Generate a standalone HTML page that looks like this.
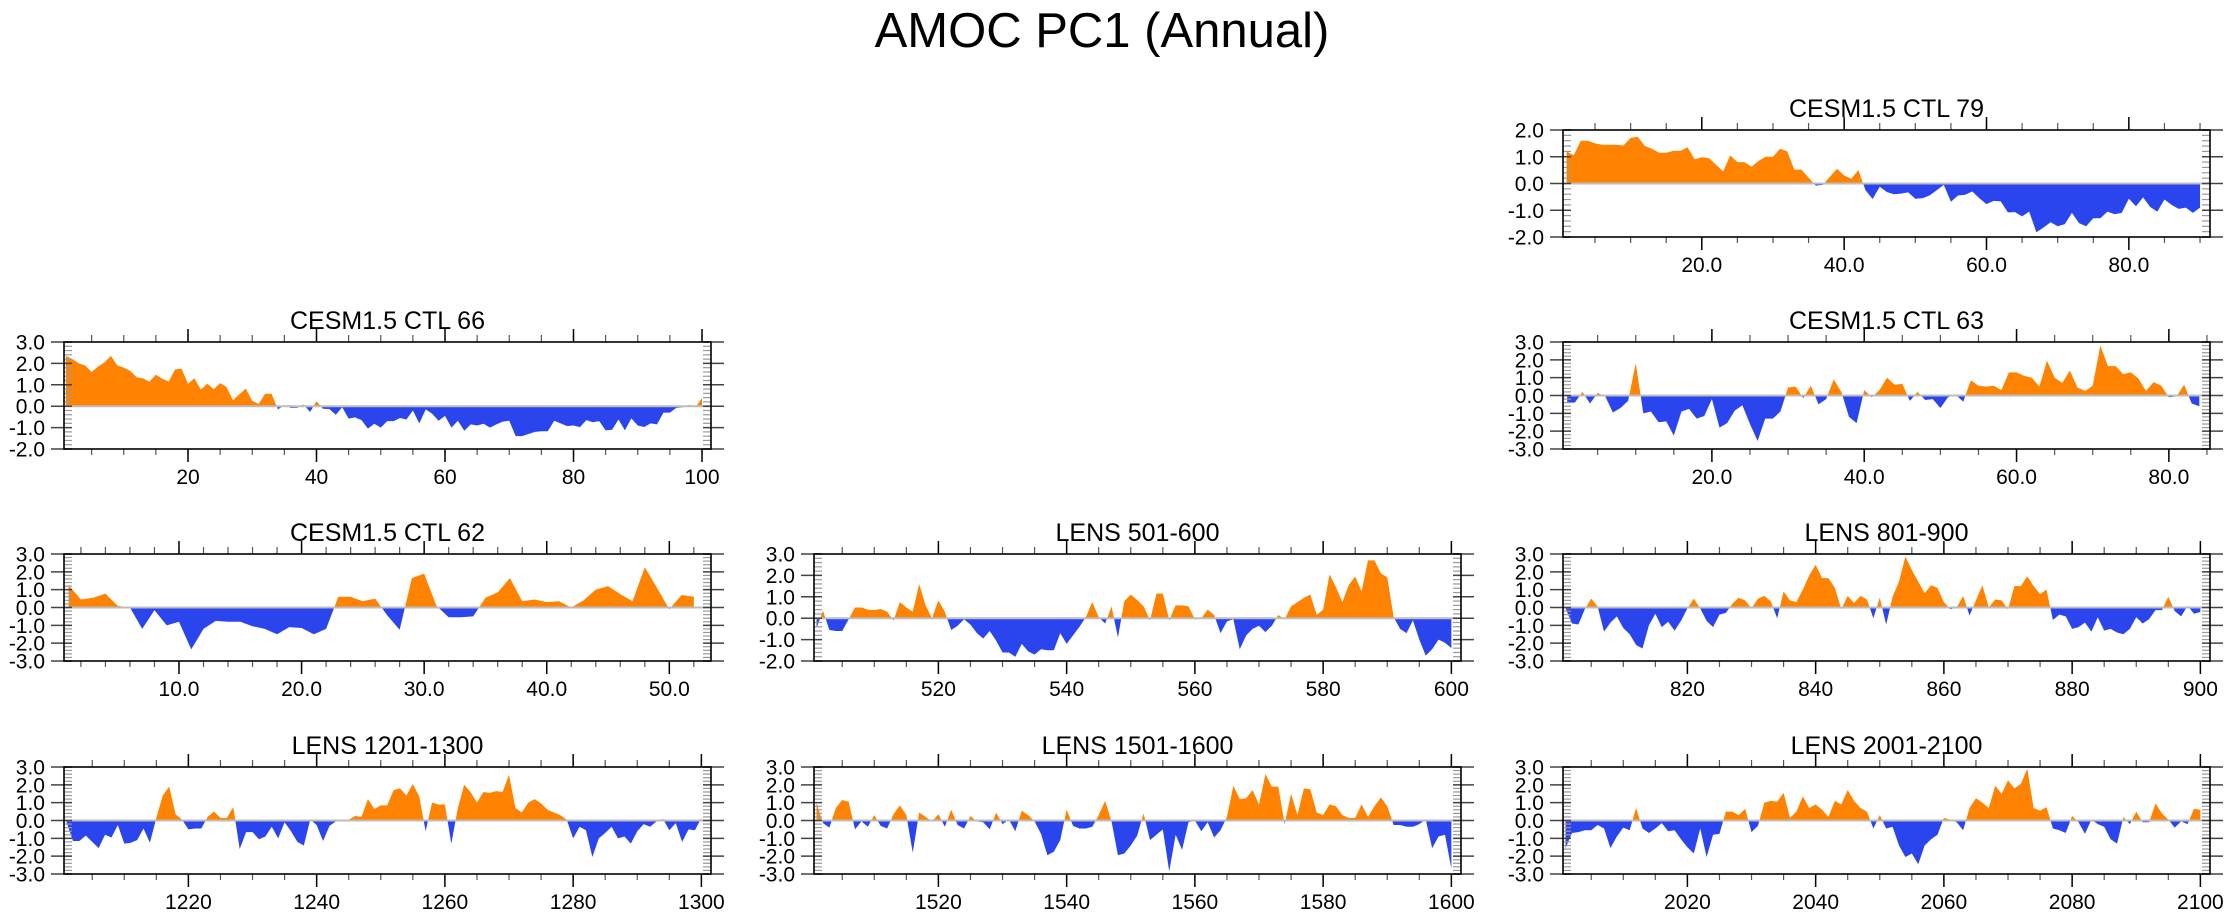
<!DOCTYPE html>
<html><head><meta charset="utf-8"><style>
html,body{margin:0;padding:0;background:#fff;}
svg{display:block;font-family:"Liberation Sans",Arial,sans-serif;}
</style></head><body>
<svg id="chart" width="2230" height="921" viewBox="0 0 2230 921" xmlns="http://www.w3.org/2000/svg">
<rect width="2230" height="921" fill="#fff"/>
<text x="1102" y="47" font-size="49" text-anchor="middle" fill="#000">AMOC PC1 (Annual)</text>
</svg>
<script>
// ---- data ----
const ctl79Values = [1.2,1.05,1.6,1.6,1.5,1.45,1.45,1.45,1.42,1.7,1.75,1.4,1.3,1.15,1.15,1.22,1.22,1.35,0.9,0.98,0.95,0.7,0.45,1.05,0.8,0.8,0.62,0.85,1.0,1.0,1.3,1.2,0.52,0.52,0.22,-0.08,-0.05,0.25,0.55,0.3,0.18,0.5,-0.25,-0.58,-0.12,-0.32,-0.4,-0.38,-0.33,-0.57,-0.55,-0.45,-0.25,-0.05,-0.68,-0.45,-0.42,-0.3,-0.55,-0.77,-0.65,-0.67,-1.08,-1.07,-1.23,-1.05,-1.82,-1.65,-1.45,-1.6,-1.52,-1.1,-1.48,-1.6,-1.3,-1.3,-1.05,-1.15,-1.1,-0.57,-0.85,-0.52,-0.88,-1.05,-0.6,-0.8,-0.95,-0.9,-1.1,-0.9];
const ctl66Values = [2.35,2.2,2.0,1.9,1.6,1.85,2.05,2.35,1.9,1.8,1.65,1.35,1.3,1.15,1.47,1.28,1.15,1.72,1.75,1.05,1.3,0.78,1.05,0.8,1.08,0.9,0.28,0.56,0.82,0.25,0.1,0.58,0.58,-0.15,0.05,-0.08,-0.07,0.08,-0.27,0.23,-0.12,-0.13,-0.4,-0.05,-0.58,-0.52,-0.65,-1.05,-0.82,-1.0,-0.7,-0.7,-0.55,-0.62,-0.2,-0.8,-0.15,-0.35,-0.68,-0.45,-1.0,-0.68,-1.15,-0.85,-0.9,-0.82,-1.0,-0.85,-0.72,-0.68,-1.4,-1.4,-1.3,-1.2,-1.17,-1.17,-0.68,-0.8,-0.93,-0.9,-0.98,-0.65,-0.75,-0.7,-1.13,-1.1,-0.62,-1.13,-0.57,-0.9,-0.97,-0.8,-0.85,-0.3,-0.3,-0.08,-0.05,0.07,-0.04,0.38];
const ctl63Values = [-0.4,-0.4,0.2,-0.45,0.15,-0.05,-0.95,-0.7,-0.3,1.8,-1.0,-0.9,-1.5,-1.45,-2.25,-0.9,-0.75,-1.3,-1.15,-0.2,-1.8,-1.55,-0.85,-0.55,-1.6,-2.55,-1.3,-1.3,-0.9,0.45,0.5,-0.15,0.55,-0.5,-0.2,0.9,0.2,-1.2,-1.55,0.3,-0.1,0.3,1.0,0.6,0.65,-0.3,0.2,-0.25,-0.2,-0.7,-0.1,0.05,-0.35,0.85,0.55,0.5,0.55,0.3,1.3,1.3,1.1,1.0,0.5,1.95,1.0,0.7,1.4,0.45,0.25,0.55,2.8,1.65,1.65,1.2,1.3,0.95,0.25,0.75,0.55,-0.1,-0.05,0.6,-0.45,-0.6];
const ctl62Values = [1.25,0.45,0.55,0.78,0.1,0.0,-1.2,-0.15,-1.0,-0.8,-2.35,-1.2,-0.75,-0.8,-0.8,-1.05,-1.2,-1.5,-1.1,-1.15,-1.5,-1.2,0.6,0.6,0.35,0.5,-0.45,-1.25,1.65,1.9,0.1,-0.55,-0.55,-0.5,0.55,0.85,1.65,0.35,0.45,0.3,0.35,0.0,0.4,1.0,1.2,0.75,0.35,2.25,1.1,-0.1,0.7,0.6];
const lens501Values = [-0.45,0.35,-0.55,-0.6,-0.6,-0.05,0.5,0.5,0.4,0.38,0.43,0.3,-0.1,0.75,0.5,0.3,1.6,0.6,0.0,0.83,0.3,-0.55,-0.35,-0.05,-0.3,-0.7,-0.95,-0.6,-1.05,-1.6,-1.6,-1.8,-1.2,-1.55,-1.7,-1.45,-1.5,-1.5,-0.7,-1.2,-0.8,-0.4,0.05,0.75,0.05,-0.25,0.55,-0.9,0.8,1.1,0.85,0.55,-0.1,1.15,1.15,-0.1,0.6,0.6,0.55,-0.05,0.0,0.4,0.15,-0.7,-0.15,-0.05,-1.45,-0.8,-0.5,-0.35,-0.65,-0.35,0.15,-0.05,0.55,0.75,0.95,1.1,0.15,0.4,2.05,1.45,0.75,1.55,1.95,1.25,2.7,2.7,2.1,1.9,0.05,-0.5,-0.7,-0.1,-1.0,-1.75,-1.45,-1.0,-1.15,-1.4];
const lens801Values = [-0.05,-0.9,-0.95,-0.1,0.5,0.05,-1.35,-0.85,-0.5,-1.15,-1.5,-2.1,-2.3,-1.0,-0.35,-1.1,-0.8,-1.3,-0.75,-0.05,0.5,-0.05,-0.75,-1.1,-0.4,-0.3,0.2,0.55,0.4,-0.05,0.5,0.65,0.35,-0.6,0.9,0.4,0.3,1.0,1.8,2.4,1.65,1.65,1.1,-0.1,0.65,0.25,0.65,0.45,-0.6,0.55,-0.95,0.6,1.45,2.85,2.1,1.45,0.8,1.25,1.1,0.3,-0.1,0.0,0.65,-0.45,0.4,1.25,0.0,0.45,0.4,-0.1,1.2,1.2,1.75,1.2,0.75,1.0,-0.7,-0.4,-0.5,-1.2,-1.1,-0.85,-1.35,-0.55,-1.3,-1.2,-1.4,-1.5,-1.2,-0.55,-0.9,-0.65,-0.15,-0.15,0.6,-0.2,-0.5,0.1,-0.35,-0.25];
const lens1201Values = [-0.1,-1.15,-1.15,-0.85,-1.2,-1.55,-0.8,-0.95,-0.25,-1.3,-1.25,-1.1,-0.45,-1.25,0.15,1.4,1.9,0.35,0.05,-0.5,-0.45,-0.45,0.2,0.5,0.15,0.15,0.75,-1.6,-0.65,-0.65,-1.05,-0.9,-0.35,-1.0,-0.1,-0.6,-1.2,-1.4,0.05,-0.25,-1.15,-0.3,-0.05,0.0,0.05,0.25,0.2,1.2,0.65,0.85,0.85,1.7,1.8,1.4,2.05,1.35,-0.6,1.0,0.9,0.9,-1.3,0.65,2.0,1.6,1.0,1.6,1.55,1.65,1.6,2.55,0.7,0.45,1.0,1.2,0.95,0.6,0.45,0.3,0.05,-1.0,-0.35,-0.55,-2.05,-1.0,-0.7,-0.35,-1.0,-0.9,-1.3,-0.6,-0.2,-0.35,-0.05,0.1,-0.55,-0.15,-1.2,-0.5,-0.55,0.15];
const lens1501Values = [1.0,-0.15,-0.4,0.7,1.15,1.05,-0.5,-0.05,-0.35,0.3,-0.3,-0.45,0.35,0.85,0.3,-1.8,0.45,0.2,-0.05,0.35,-0.35,0.6,-0.25,-0.45,0.25,-0.05,-0.1,-0.5,0.45,-0.2,0.05,-0.6,0.55,0.3,-0.05,-0.75,-1.95,-1.75,-1.1,0.6,-0.3,-0.45,-0.45,-0.35,0.3,1.1,-0.05,-1.95,-1.85,-1.4,-0.85,0.4,-1.1,-0.8,-0.5,-2.85,-0.8,-1.65,-0.1,0.0,-0.6,-0.1,-0.95,-0.55,0.2,1.95,1.2,1.25,1.7,0.9,2.6,1.9,1.9,-0.2,1.5,0.3,1.8,1.75,0.45,0.3,0.9,0.8,0.3,0.15,0.15,0.9,0.2,0.8,1.3,0.8,-0.25,-0.25,-0.35,-0.35,-0.2,0.05,-1.55,-0.9,-0.8,-2.7];
const lens2001Values = [-1.55,-0.7,-0.65,-0.55,-0.55,-0.25,-0.45,-1.55,-0.9,-0.4,-0.55,0.7,-0.45,-0.7,-0.45,-0.15,-0.6,-0.55,-1.05,-1.5,-1.85,-0.45,-2.05,-0.8,-0.75,0.5,0.5,0.3,0.65,-0.65,-0.3,1.0,1.1,1.05,1.55,0.15,0.5,1.35,0.7,0.9,0.6,0.2,1.1,0.9,1.7,1.1,0.7,0.5,-0.45,0.3,-0.45,-0.35,-1.4,-2.05,-1.85,-2.45,-1.4,-1.05,-0.8,0.15,0.05,-0.1,-0.55,0.7,1.25,1.0,0.7,1.95,1.5,2.25,1.8,2.05,2.9,0.7,0.55,0.75,-0.45,-0.55,-0.7,0.25,-0.1,-0.75,0.05,-0.2,-0.35,-1.05,-1.3,0.2,-0.2,0.5,-0.1,-0.1,0.95,0.4,0.05,-0.4,-0.05,-0.2,0.65,0.6];

const ctl79XTicks = [20,40,60,80];
const ctl66XTicks = [20,40,60,80,100];
const ctl63XTicks = [20,40,60,80];
const ctl62XTicks = [10,20,30,40,50];
const lens501XTicks = [520,540,560,580,600];
const lens801XTicks = [820,840,860,880,900];
const lens1201XTicks = [1220,1240,1260,1280,1300];
const lens1501XTicks = [1520,1540,1560,1580,1600];
const lens2001XTicks = [2020,2040,2060,2080,2100];

const panels = [
 {name:'ctl79', title:'CESM1.5 CTL 79', vals:ctl79Values, start:1, xt:ctl79XTicks, dec:1, minor:5, L:1563, T:130, xmin:0.5, xmax:91.4, ymin:-2, ymax:2},
 {name:'ctl66', title:'CESM1.5 CTL 66', vals:ctl66Values, start:1, xt:ctl66XTicks, dec:0, minor:5, L:64, T:342, xmin:0.7, xmax:101.4, ymin:-2, ymax:3},
 {name:'ctl63', title:'CESM1.5 CTL 63', vals:ctl63Values, start:1, xt:ctl63XTicks, dec:1, minor:5, L:1563, T:342, xmin:0.45, xmax:85.4, ymin:-3, ymax:3},
 {name:'ctl62', title:'CESM1.5 CTL 62', vals:ctl62Values, start:1, xt:ctl62XTicks, dec:1, minor:2, L:64, T:554, xmin:0.62, xmax:53.4, ymin:-3, ymax:3},
 {name:'lens501', title:'LENS 501-600', vals:lens501Values, start:501, xt:lens501XTicks, dec:0, minor:5, L:814, T:554, xmin:500.6, xmax:601.5, ymin:-2, ymax:3},
 {name:'lens801', title:'LENS 801-900', vals:lens801Values, start:801, xt:lens801XTicks, dec:0, minor:5, L:1563, T:554, xmin:800.6, xmax:901.5, ymin:-3, ymax:3},
 {name:'lens1201', title:'LENS 1201-1300', vals:lens1201Values, start:1201, xt:lens1201XTicks, dec:0, minor:5, L:64, T:767, xmin:1200.6, xmax:1301.5, ymin:-3, ymax:3},
 {name:'lens1501', title:'LENS 1501-1600', vals:lens1501Values, start:1501, xt:lens1501XTicks, dec:0, minor:5, L:814, T:767, xmin:1500.6, xmax:1601.5, ymin:-3, ymax:3},
 {name:'lens2001', title:'LENS 2001-2100', vals:lens2001Values, start:2001, xt:lens2001XTicks, dec:0, minor:5, L:1563, T:767, xmin:2000.6, xmax:2101.5, ymin:-3, ymax:3}
];

const NS='http://www.w3.org/2000/svg';
const svg=document.getElementById('chart');
const W=647, H=107;
function mk(tag, attrs, parent){const e=document.createElementNS(NS,tag);for(const k in attrs)e.setAttribute(k,attrs[k]);parent.appendChild(e);return e;}

panels.forEach(p=>{
  const g=mk('g',{},svg);
  
  
  const L=p.L,T=p.T,R=L+W,B=T+H;
  const xs=v=>L+(v-p.xmin)/(p.xmax-p.xmin)*W;
  const ys=v=>T+(p.ymax-v)/(p.ymax-p.ymin)*H;
  const y0=ys(0);
  const cu='cu-'+p.name, cd='cd-'+p.name;
  const defs=mk('defs',{},g);
  const c1=mk('clipPath',{id:cu},defs); mk('rect',{x:L,y:T,width:W,height:y0-T},c1);
  const c2=mk('clipPath',{id:cd},defs); mk('rect',{x:L,y:y0,width:W,height:B-y0},c2);
  let d='M'+xs(p.start).toFixed(2)+','+y0.toFixed(2);
  p.vals.forEach((v,i)=>{d+=' L'+xs(p.start+i).toFixed(2)+','+ys(v).toFixed(2);});
  d+=' L'+xs(p.start+p.vals.length-1).toFixed(2)+','+y0.toFixed(2)+' Z';
  const pos=mk('path',{d:d,fill:'#ff8200','clip-path':'url(#'+cu+')'},g);
  
  
  const neg=mk('path',{d:d,fill:'#2b45ee','clip-path':'url(#'+cd+')'},g);
  
  
  const zl=mk('line',{x1:L,x2:R,y1:y0,y2:y0,stroke:'#bdbdbd','stroke-width':2},g);
  
  
  for(let v=p.ymin; v<=p.ymax+1e-6; v+=0.2){
    const y=ys(v);
    mk('line',{x1:L,x2:L+8,y1:y,y2:y,stroke:'#999','stroke-width':1.2},g);
    mk('line',{x1:R-8,x2:R,y1:y,y2:y,stroke:'#999','stroke-width':1.2},g);
  }
  for(let v=p.ymin; v<=p.ymax; v+=1){
    const y=ys(v);
    mk('line',{x1:L-13,x2:L+8,y1:y,y2:y,stroke:'#444','stroke-width':1.5},g);
    mk('line',{x1:R-8,x2:R+13,y1:y,y2:y,stroke:'#444','stroke-width':1.5},g);
    const t=mk('text',{x:L-19,y:y+7.5,'font-size':21,'text-anchor':'end',fill:'#000'},g);
    t.textContent=v.toFixed(1);
    
    
  }
  const first=Math.ceil(p.xmin/p.minor)*p.minor;
  for(let v=first; v<=p.xmax; v+=p.minor){
    const x=xs(v);
    mk('line',{x1:x,x2:x,y1:B,y2:B+6,stroke:'#555','stroke-width':1.2},g);
    mk('line',{x1:x,x2:x,y1:T,y2:T-7,stroke:'#555','stroke-width':1.2},g);
  }
  p.xt.forEach(v=>{
    const x=xs(v);
    mk('line',{x1:x,x2:x,y1:B,y2:B+13,stroke:'#000','stroke-width':1.5},g);
    mk('line',{x1:x,x2:x,y1:T,y2:T-13,stroke:'#000','stroke-width':1.5},g);
    const t=mk('text',{x:x,y:B+35,'font-size':21,'text-anchor':'middle',fill:'#000'},g);
    t.textContent=v.toFixed(p.dec);
    
    
  });
  const box=mk('rect',{x:L,y:T,width:W,height:H,fill:'none',stroke:'#000','stroke-width':1.6},g);
  
  
  const tt=mk('text',{x:L+W/2,y:T-13,'font-size':25,'text-anchor':'middle',fill:'#000'},g);
  tt.textContent=p.title;
  
  
});
</script>
</body></html>
